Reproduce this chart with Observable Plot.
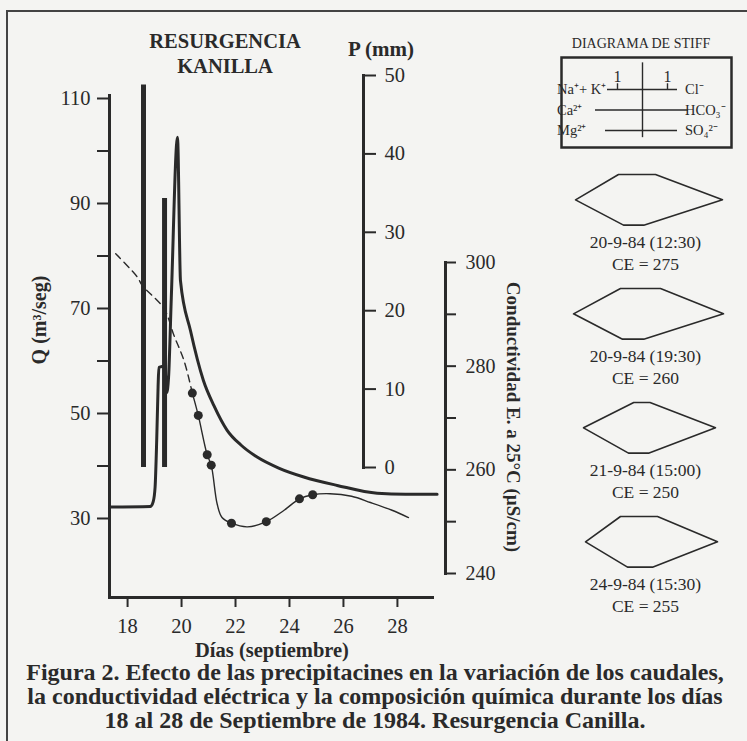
<!DOCTYPE html>
<html><head><meta charset="utf-8">
<script src="https://cdn.jsdelivr.net/npm/d3@7"></script>
<script src="https://cdn.jsdelivr.net/npm/@observablehq/plot@0.6"></script>
<style>
body{margin:0;background:#f4f4f2;}
#fig{position:relative;width:747px;height:741px;overflow:hidden;background:#f4f4f2;}
</style></head><body><div id="fig"></div>
<script>
// ---------- data ----------
// Discharge Q (m3/s)
const qDays   = [17.33,18.85,18.95,19.02,19.08,19.13,19.16,19.38,19.45,19.52,19.62,19.85,19.96,20.33,20.81,21.2,21.69,22.2,22.8,23.6,24.53,25.77,27.25,28.3,29.47];
const qValues = [32.2, 32.3, 33.2, 36,   45,   55,   58.8, 59,   54,   57,   72,   102.6,75.3, 65.8, 56.3, 51.5,46.8, 44, 41.7,39.6,37.9, 36.3, 34.8, 34.6,34.6];
// Rainfall P (mm)
const rainDays = [18.59, 19.37];
const rainMm   = [48.8, 34.3];
// Electrical conductivity (uS/cm): estimated (dashed) part
const ceDashDays   = [17.56, 18.36, 18.54, 19.35, 19.72, 20.09, 20.40];
const ceDashValues = [301.7, 297.2, 295.6, 291.1, 285.9, 281.1, 274.8];
// measured curve
const ceDays   = [20.40,20.62,20.95,21.10,21.32,21.5,21.85,22.44,23.14,23.8,24.37,24.86,25.5,26.3,27.0,27.8,28.41];
const ceValues = [274.8,270.5,262.9,260.9,253.4,250.8,249.7,249.0,250.0,252.2,254.4,255.2,255.4,254.9,253.7,252.2,250.8];
// sample points
const ceSampleDays   = [20.40,20.62,20.95,21.10,21.85,23.14,24.37,24.86];
const ceSampleValues = [274.8,270.5,262.9,260.9,249.7,250.0,254.4,255.2];
// axes ticks
const dayTicks = [18,20,22,24,26,28];
const qTicks = [30,40,50,60,70,80,90,100,110];
const qLabels = [30,50,70,90,110];
const pTicks = [0,10,20,30,40,50];
const ceTicks = [240,250,260,270,280,290,300];
const ceLabels = [240,260,280,300];
// Stiff diagrams (meq/L)
const stiffDates = ["20-9-84 (12:30)","20-9-84 (19:30)","21-9-84 (15:00)","24-9-84 (15:30)"];
const stiffCE = [275,260,250,255];
const naK  = [0.96,0.88,0.35,0.88];
const cl   = [0.52,0.72,0.3,0.6];
const ca   = [2.68,2.76,2.36,2.28];
const hco3 = [3.2,3.24,2.92,3.0];
const mg   = [0.76,0.8,0.56,0.6];
const so4  = [0.05,0.05,0.24,0.4];
const cationLabels = ["Na\u207A+ K\u207A","Ca\u00B2\u207A","Mg\u00B2\u207A"];
const anionLabels  = ["Cl\u207B","HCO\u2083\u207B","SO\u2084\u00B2\u207B"];
const templateX1 = [-1.4,-1.88,-1.48];
const templateX2 = [1.4,1.84,1.4];
const scaleTicks = [-1, 1];
// texts
const titleLines = ["RESURGENCIA","KANILLA"];
const pAxisLabel = "P (mm)";
const qAxisLabel = "Q (m\u00B3/seg)";
const ceAxisLabel = "Conductividad E. a 25\u00B0C (\u00B5S/cm)";
const xAxisLabel = "Días (septiembre)";
const stiffTitle = "DIAGRAMA DE STIFF";
const captionLines = [
  "Figura 2. Efecto de las precipitacines en la variación de los caudales,",
  "la conductividad eléctrica y la composición química durante los días",
  "18 al 28 de Septiembre de 1984. Resurgencia Canilla."
];

// ---------- build ----------
const ink = "#2a2a2a";
const W = 747, H = 640;
const xDomain = [17.33, 29.3];
const xRange = [109, 432];
const fig = document.getElementById("fig");
const baseStyle = (fs) => ({position:"absolute", left:"0px", top:"0px", background:"transparent", overflow:"visible",
  fontFamily:"'Liberation Serif', serif", fontSize: fs, color: ink});

const qData = qDays.map((d,i)=>({day:d, q:qValues[i]}));
const rain = rainDays.map((d,i)=>({day:d, p:rainMm[i]}));
const ceDash = ceDashDays.map((d,i)=>({day:d, ce:ceDashValues[i]}));
const ceLine = ceDays.map((d,i)=>({day:d, ce:ceValues[i]}));
const ceSamples = ceSampleDays.map((d,i)=>({day:d, ce:ceSampleValues[i]}));

// main plot: Q axis + days
const mainPlot = Plot.plot({
  width: W, height: H, style: baseStyle("20.5px"),
  marginLeft: 109, marginRight: W-432, marginTop: 95, marginBottom: H-597,
  x: {domain: xDomain},
  y: {domain: [14.95, 110.57]},
  marks: [
    Plot.frame({anchor:"left", strokeWidth:3, stroke: ink}),
    Plot.frame({anchor:"bottom", strokeWidth:3, stroke: ink}),
    Plot.axisY({ticks:qTicks, tickFormat:d=>qLabels.includes(d)?String(d):"", tickSize:12, tickPadding:7, strokeWidth:2, label:null}),
    Plot.axisX({ticks:dayTicks, tickSize:10, tickPadding:11, strokeWidth:2, label:null}),
    Plot.line(qData, {x:"day", y:"q", stroke: ink, strokeWidth:3, curve:"monotone-x"})
  ]
});
fig.appendChild(mainPlot);

// rainfall overlay
const pPlot = Plot.plot({
  width: W, height: H, style: baseStyle("20.5px"),
  marginLeft: 109, marginRight: W-363, marginTop: 75, marginBottom: H-467,
  x: {domain: xDomain, range: xRange, axis: null},
  y: {domain: [0, 50]},
  marks: [
    Plot.frame({anchor:"right", strokeWidth:3, stroke: ink}),
    Plot.axisY({anchor:"right", ticks:pTicks, tickSize:12, tickPadding:9, strokeWidth:2, label:null}),
    Plot.ruleX(rain, {x:"day", y1:0, y2:"p", stroke: ink, strokeWidth:5})
  ]
});
fig.appendChild(pPlot);

// conductivity overlay
const cePlot = Plot.plot({
  width: W, height: H, style: baseStyle("20px"),
  marginLeft: 109, marginRight: W-445, marginTop: 262, marginBottom: H-573,
  x: {domain: xDomain, range: xRange, axis: null},
  y: {domain: [240, 300]},
  marks: [
    Plot.frame({anchor:"right", strokeWidth:3, stroke: ink}),
    Plot.axisY({anchor:"right", ticks:ceTicks, tickFormat:d=>ceLabels.includes(d)?String(d):"", tickSize:10, tickPadding:10, strokeWidth:2, label:null}),
    Plot.line(ceDash, {x:"day", y:"ce", stroke: ink, strokeWidth:1.4, strokeDasharray:"7,5", curve:"catmull-rom"}),
    Plot.line(ceLine, {x:"day", y:"ce", stroke: ink, strokeWidth:1.4, curve:"catmull-rom"}),
    Plot.dot(ceSamples, {x:"day", y:"ce", r:4.5, fill: ink, stroke: "none"})
  ]
});
fig.appendChild(cePlot);

// Stiff template box
const templateRows = cationLabels.map((c,i)=>({row:i, x1:templateX1[i], x2:templateX2[i], cat:c, an:anionLabels[i]}));
const tplPlot = Plot.plot({
  width: W, height: H, style: baseStyle("14.5px"),
  marginLeft: 561, marginRight: W-731, marginTop: 57, marginBottom: H-147,
  x: {domain: [-1, 1], range: [617, 667], axis: null},
  y: {domain: [0, 2], range: [89, 130], axis: null},
  marks: [
    Plot.frame({stroke: ink, strokeWidth: 2.5}),
    Plot.ruleX([0], {y1: -1.3, y2: 2.35, stroke: ink, strokeWidth: 1.4}),
    Plot.ruleY(templateRows, {y:"row", x1:"x1", x2:"x2", stroke: ink, strokeWidth: 1.4}),
    Plot.ruleX(scaleTicks, {y1: 0, y2: -0.28, stroke: ink, strokeWidth: 1.4}),
    Plot.text(scaleTicks, {x: d=>d, y: 0, dy: -13, text: ()=>"1", fontSize: 16}),
    Plot.text(templateRows, {x: -3.42, y: "row", text: "cat", textAnchor: "start"}),
    Plot.text(templateRows, {x: 1.7, y: "row", text: "an", textAnchor: "start"})
  ]
});
fig.appendChild(tplPlot);

// Stiff polygons, one facet per sample
const stiffPts = [];
stiffDates.forEach((d,i)=>{
  [[-naK[i],0],[cl[i],0],[hco3[i],1],[so4[i],2],[-mg[i],2],[-ca[i],1],[-naK[i],0]]
    .forEach(([x,y])=>stiffPts.push({date:d, x, y}));
});
const stiffPlot = Plot.plot({
  width: W, height: H, style: baseStyle("17.5px"),
  marginLeft: 555, marginRight: 0, marginTop: 173, marginBottom: 10,
  facet: {marginTop: 0, marginBottom: 0, marginLeft: 0, marginRight: 0},
  x: {domain: [-1, 1], range: [617, 667], axis: null},
  y: {domain: [0, 4.5], reverse: true, axis: null},
  fy: {domain: stiffDates, padding: 0, axis: null},
  marks: [
    Plot.line(stiffPts, {x:"x", y:"y", z:"date", fy:"date", stroke: ink, strokeWidth: 1.6, strokeLinejoin:"round"}),
    Plot.text(stiffDates, {fy: d=>d, x: 0, y: 2, dx: 3, dy: 17, text: d=>d}),
    Plot.text(stiffDates, {fy: d=>d, x: 0, y: 2, dx: 3, dy: 39, text: (d,i)=>`CE = ${stiffCE[i]}`})
  ]
});
fig.appendChild(stiffPlot);

// free annotations
const ann = d3.create("svg").attr("width", 747).attr("height", 741)
  .style("position","absolute").style("left","0px").style("top","0px")
  .attr("font-family","'Liberation Serif', serif").attr("fill", ink);
ann.append("path").attr("d","M7,741V11H747").attr("fill","none").attr("stroke","#444").attr("stroke-width",2);
titleLines.forEach((t,i)=>ann.append("text").attr("x",225).attr("y",48+25*i).attr("text-anchor","middle")
  .attr("font-size",20.5).attr("font-weight","bold").text(t));
ann.append("text").attr("x",381).attr("y",56).attr("text-anchor","middle").attr("font-size",21).attr("font-weight","bold").text(pAxisLabel);
ann.append("text").attr("transform","translate(46,320) rotate(-90)").attr("text-anchor","middle").attr("font-size",20).attr("font-weight","bold").text(qAxisLabel);
ann.append("text").attr("transform","translate(507,417) rotate(90)").attr("text-anchor","middle").attr("font-size",19).attr("font-weight","bold").text(ceAxisLabel);
ann.append("text").attr("x",272).attr("y",657).attr("text-anchor","middle").attr("font-size",20.5).attr("font-weight","bold").text(xAxisLabel);
ann.append("text").attr("x",641).attr("y",48).attr("text-anchor","middle").attr("font-size",14).text(stiffTitle);
captionLines.forEach((t,i)=>ann.append("text").attr("x",375).attr("y",680+24*i).attr("text-anchor","middle")
  .attr("font-size",24).attr("font-weight","bold").text(t));
fig.appendChild(ann.node());
</script></body></html>
